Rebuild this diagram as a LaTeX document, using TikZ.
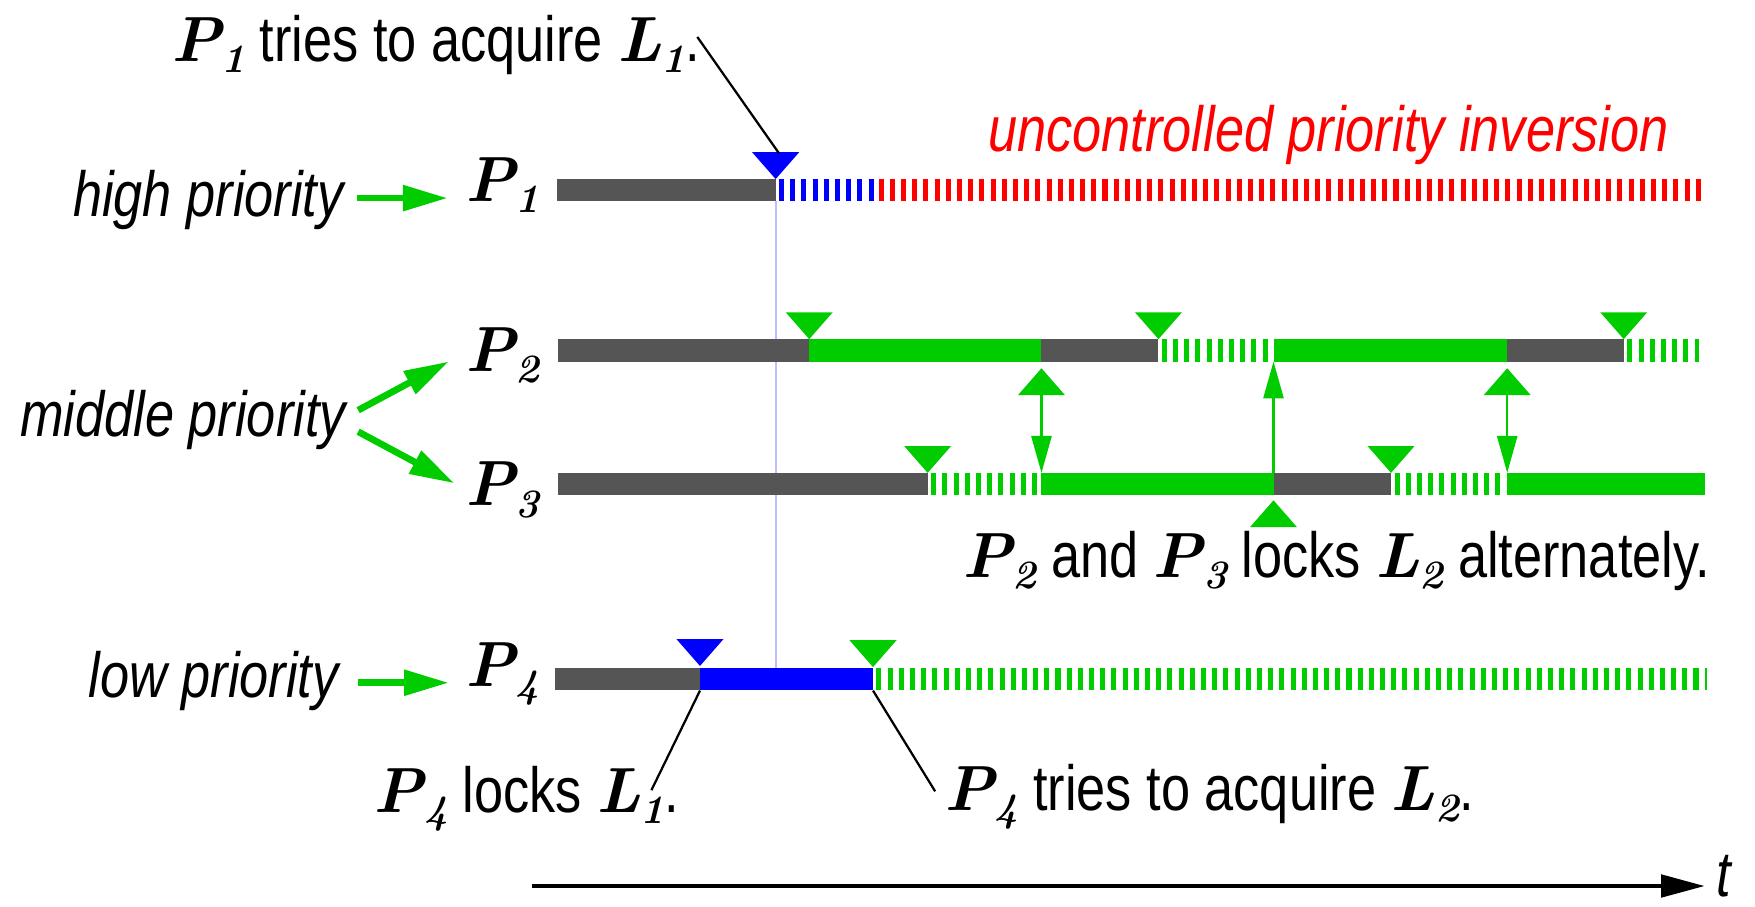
\documentclass[tikz,border=0pt]{standalone}
\usepackage{fontspec}
\setmainfont{Liberation Sans}[FakeStretch=0.82]
\newfontfamily\pfont{lmroman10}[Extension=.otf, UprightFont=*-regular, ItalicFont=*-italic, BoldFont=*-bold, BoldItalicFont=*-bolditalic]
\usetikzlibrary{arrows.meta}
\definecolor{grn}{RGB}{0,204,0}
\definecolor{busy}{RGB}{85,85,85}
\definecolor{lav}{RGB}{190,190,255}
% bold italic symbol with a lowered italic index
\newcommand\Sym[2]{{\pfont\bfseries\itshape #1}\kern0pt\raisebox{-10pt}{\pfont\bfseries\itshape\fontsize{36}{36}\selectfont #2}}
\newcommand\Pn[1]{\Sym{P}{#1}}
\newcommand\Ln[1]{\Sym{L}{#1}}
\tikzset{
  txt/.style={inner sep=0pt, outer sep=0pt, font=\fontsize{57}{62}\selectfont},
  itx/.style={txt, font=\fontsize{57}{62}\selectfont\itshape},
  seg/.style={line width=20pt},
  stripe/.style={line width=20pt, dash pattern=on 4.5pt off 5.5pt},
  leader/.style={draw=black, line width=2pt},
  prio/.style={draw=grn, line width=6pt, -{Triangle[length=40pt,width=22pt]}},
  lockarrow/.style={draw=grn, line width=2pt, -{Triangle[length=33pt,width=18pt]}},
  pics/dmark/.style={code={\fill[#1] (-21,-24) -- (21,-24) -- (0,0) -- cycle;}},
  pics/umark/.style={code={\fill[#1] (-21,24) -- (21,24) -- (0,0) -- cycle;}},
}
\begin{document}
\begin{tikzpicture}[x=1pt,y=-1pt]
\useasboundingbox (0,0) rectangle (1568,810);

% time line of P1 (wait point through the blocked tail)
\coordinate (p1wait) at (693,170);
\draw[lav, line width=2pt] (693,180) -- (693,597);
\draw[seg,busy] (498,170) -- (p1wait);
\draw[stripe,blue] (696,170) -- (782,170);
\draw[stripe,red] (785,170) -- (1522,170);
\pic at (693,160) {dmark=blue};

% P2
\draw[seg,busy] (498.6,313) -- (723,313);
\draw[seg,grn] (723,313) -- (930.5,313);
\draw[seg,busy] (930.5,313) -- (1035,313);
\draw[stripe,grn] (1038,313) -- (1137,313);
\draw[seg,grn] (1137.8,313) -- (1346.6,313);
\draw[seg,busy] (1346.6,313) -- (1450.7,313);
\draw[stripe,grn] (1454,313) -- (1518,313);
\pic at (723,303) {dmark=grn};
\pic at (1035,303) {dmark=grn};
\pic at (1450.7,303) {dmark=grn};

% P3
\draw[seg,busy] (498.6,432.5) -- (828.8,432.5);
\draw[stripe,grn] (832,432.5) -- (930,432.5);
\draw[seg,grn] (930.5,432.5) -- (1137.8,432.5);
\draw[seg,busy] (1137.8,432.5) -- (1242.8,432.5);
\draw[stripe,grn] (1246,432.5) -- (1346,432.5);
\draw[seg,grn] (1346.6,432.5) -- (1523,432.5);
\pic at (828.8,422.5) {dmark=grn};
\pic at (1242.8,422.5) {dmark=grn};

% hand-over of L2 between P2 and P3
\coordinate (h1a) at (930.5,353);   \coordinate (h1b) at (930.5,422.5);
\coordinate (h2a) at (1137.8,422.5);\coordinate (h2b) at (1137.8,323);
\coordinate (h3a) at (1346.6,353);  \coordinate (h3b) at (1346.6,422.5);
\pic at (930.5,329) {umark=grn};
\pic at (1137.8,447) {umark=grn};
\pic at (1346.6,329) {umark=grn};
\draw[lockarrow] (h1a) -- (h1b);
\draw[lockarrow] (h2a) -- (h2b);
\draw[lockarrow] (h3a) -- (h3b);

% P4
\coordinate (p4lock) at (625.4,617);
\coordinate (p4wait) at (780,617);
\draw[seg,busy] (495.7,606.5) -- (625.4,606.5);
\draw[seg,blue] (625.4,606.5) -- (780,606.5);
\draw[stripe,grn] (783,606.5) -- (1525,606.5);
\pic at (625.4,595) {dmark=blue};
\pic at (780,596) {dmark=grn};

% process names
\node[txt, anchor=base west] (P1) at (415.5,180) {\Pn1};
\node[txt, anchor=base west] (P2) at (415.5,332) {\Pn2};
\node[txt, anchor=base west] (P3) at (415.5,452) {\Pn3};
\node[txt, anchor=base west] (P4) at (415.5,613.5) {\Pn4};

% priority classes
\node[itx, anchor=base east] (high) at (307,193) {high priority};
\node[itx, anchor=base east] (mid) at (309,389.6) {middle priority};
\node[itx, anchor=base east] (low) at (302.5,623) {low priority};
\coordinate (hs) at (319,177);   \coordinate (he) at (400,177);
\coordinate (m2s) at (320,366.5);\coordinate (m2e) at (401,323);
\coordinate (m3s) at (320,385.7);\coordinate (m3e) at (406,431.8);
\coordinate (ls) at (320,610);   \coordinate (le) at (401,610);
\draw[prio] (hs) -- (he);
\draw[prio] (m2s) -- (m2e);
\draw[prio] (m3s) -- (m3e);
\draw[prio] (ls) -- (le);

% annotations
\node[txt, anchor=base west] (n1) at (153,55) {\Pn1 tries to acquire \Ln1.};
\coordinate (n1end) at (623,33);
\draw[leader] (n1end) -- (696,137);
\node[itx, anchor=base west, text=red] (inv) at (883,135.5) {uncontrolled priority inversion};
\node[txt, anchor=base west] (alt) at (860,515.7) {\Pn2 and \Pn3 locks \Ln2 alternately.};
\node[txt, anchor=base west] (n4a) at (334,726) {\Pn4 locks \Ln1.};
\node[txt, anchor=base west] (n4b) at (844,724) {\Pn4 tries to acquire \Ln2.};
\coordinate (n4aend) at (582,706);
\coordinate (n4bend) at (835.5,707);
\draw[leader] (p4lock) -- (n4aend);
\draw[leader] (p4wait) -- (n4bend);

% time axis
\coordinate (t0) at (475,791.6);
\coordinate (t1) at (1523,791.6);
\draw[line width=3.6pt, -{Triangle[length=39pt,width=20pt]}] (t0) -- (t1);
\node[itx, anchor=base west] (tlab) at (1534,801) {t};
\end{tikzpicture}
\end{document}
